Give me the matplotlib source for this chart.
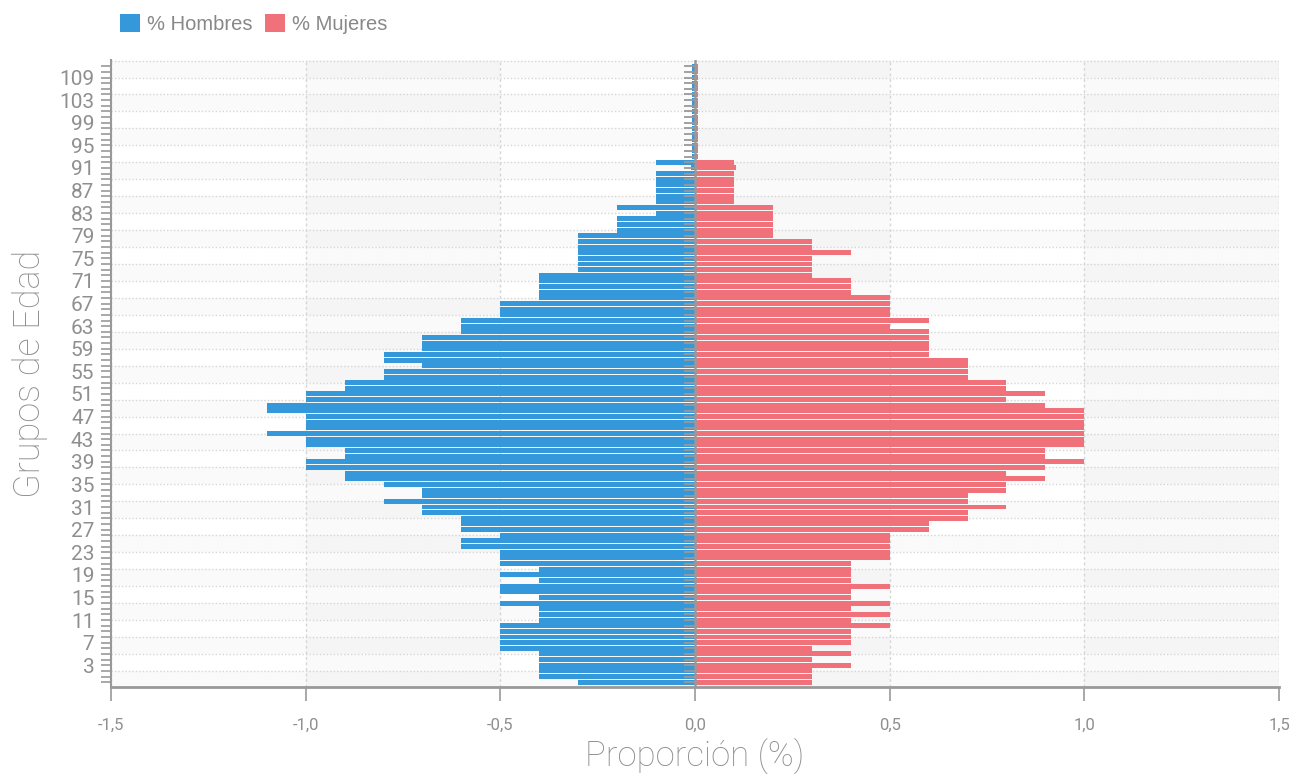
import numpy as np
import matplotlib
matplotlib.use('Agg')
import matplotlib.pyplot as plt

plt.rcParams['font.family'] = ['Roboto', 'DejaVu Sans']

# grupos de edad (de abajo hacia arriba)
edades = [str(e) for e in range(0, 104)] + ['104', '105', '107', '109', '110', '111']

# % hombres (negativo, lado izquierdo)
hombres = ([-0.3] + [-0.4] * 5 + [-0.5] * 5 + [-0.4] * 3 + [-0.5, -0.4, -0.5, -0.5, -0.4, -0.5, -0.4]
           + [-0.5] * 3 + [-0.6, -0.6, -0.5] + [-0.6] * 3 + [-0.7, -0.7, -0.8, -0.7, -0.7, -0.8]
           + [-0.9, -0.9, -1.0, -1.0, -0.9, -0.9, -1.0, -1.0, -1.1, -1.0, -1.0, -1.0, -1.1, -1.1]
           + [-1.0, -1.0, -0.9, -0.9, -0.8, -0.8, -0.7, -0.8, -0.8] + [-0.7] * 3 + [-0.6] * 3
           + [-0.5] * 3 + [-0.4] * 5 + [-0.3] * 7 + [-0.2] * 3 + [-0.1, -0.2] + [-0.1] * 6
           + [-0.01, -0.1] + [-0.007] * 17)

# % mujeres (positivo, lado derecho)
mujeres = ([0.3, 0.3, 0.3, 0.4, 0.3, 0.4, 0.3, 0.4, 0.4, 0.4, 0.5, 0.4, 0.5, 0.4, 0.5, 0.4, 0.4, 0.5]
           + [0.4] * 4 + [0.5] * 5 + [0.6, 0.6, 0.7, 0.7, 0.8, 0.7, 0.7, 0.8, 0.8, 0.9, 0.8, 0.9]
           + [1.0, 0.9, 0.9] + [1.0] * 7 + [0.9, 0.8, 0.9, 0.8, 0.8] + [0.7] * 4 + [0.6] * 5
           + [0.5, 0.6] + [0.5] * 4 + [0.4] * 3 + [0.3] * 4 + [0.4, 0.3, 0.3] + [0.2] * 6
           + [0.1] * 6 + [0.105, 0.1] + [0.007] * 17)

xticks = [-1.5, -1.0, -0.5, 0.0, 0.5, 1.0, 1.5]

azul = '#3498db'
rojo = '#f0717a'
gris = '#999999'
texto = '#8f8f8f'

pos = np.arange(len(edades))

fig = plt.figure(figsize=(12.93, 7.74), dpi=100)
ax = fig.add_axes([111 / 1293, 1 - 687 / 774, 1168 / 1293, 627 / 774])

# bandas alternas del fondo (muy suaves)
for top in range(110, -1, -6):
    ax.axhspan(top - 3, top, color='k', alpha=0.02, lw=0, zorder=0)
for x0 in [-1.0, 0.0, 1.0]:
    ax.axvspan(x0, x0 + 0.5, color='k', alpha=0.018, lw=0, zorder=0)

# rejilla punteada
for y in range(2, 111, 3):
    ax.axhline(y, color='#d6d6d6', lw=1, ls=(0, (1, 1.5)), zorder=1)
for x in xticks:
    ax.axvline(x, color='#d6d6d6', lw=1, ls=(0, (2, 2)), zorder=1)

b1 = ax.barh(pos, hombres, height=0.88, color=azul, lw=0, zorder=3, label='% Hombres')
b2 = ax.barh(pos, mujeres, height=0.88, color=rojo, lw=0, zorder=3, label='% Mujeres')

# eje en el cero con sus marcas
ax.axvline(0, color=gris, lw=1.8, zorder=5)
ax.hlines(pos, -0.028, 0, color=gris, lw=1.3, zorder=5)

ax.set_xlim(-1.5, 1.5)
ax.set_ylim(-0.85, 110.1)

ax.set_xticks(xticks)
ax.set_xticklabels([f'{v:.1f}'.replace('.', ',') for v in xticks])
ax.set_yticks(pos[3::4])
ax.set_yticklabels(edades[3::4])
ax.set_yticks(pos, minor=True)

ax.tick_params(axis='y', which='both', length=7, width=1.2, color=gris,
               labelsize=15, labelcolor=texto, pad=5)
ax.tick_params(axis='x', length=10, width=1.2, color=gris,
               labelsize=12, labelcolor=texto, pad=12)

for s in ['top', 'right']:
    ax.spines[s].set_visible(False)
ax.spines['left'].set_color(gris)
ax.spines['left'].set_linewidth(1.5)
ax.spines['bottom'].set_color(gris)
ax.spines['bottom'].set_linewidth(2)

ax.set_xlabel('Proporción (%)', fontsize=25, color=texto, fontweight='light')
ax.xaxis.set_label_coords(0.5, -0.083)
ax.set_ylabel('Grupos de Edad', fontsize=26, color=texto, fontweight='light', labelpad=8)

fig.legend(handles=[b1, b2], loc='center left', bbox_to_anchor=(110 / 1293, 1 - 24 / 774),
           ncol=2, frameon=False, labelcolor='#888888',
           handlelength=1.0, handleheight=1.0, handletextpad=0.35, columnspacing=0.6,
           borderpad=0, prop={'family': ['Liberation Sans'], 'size': 14.5})

fig.savefig('out.png', dpi=100)
